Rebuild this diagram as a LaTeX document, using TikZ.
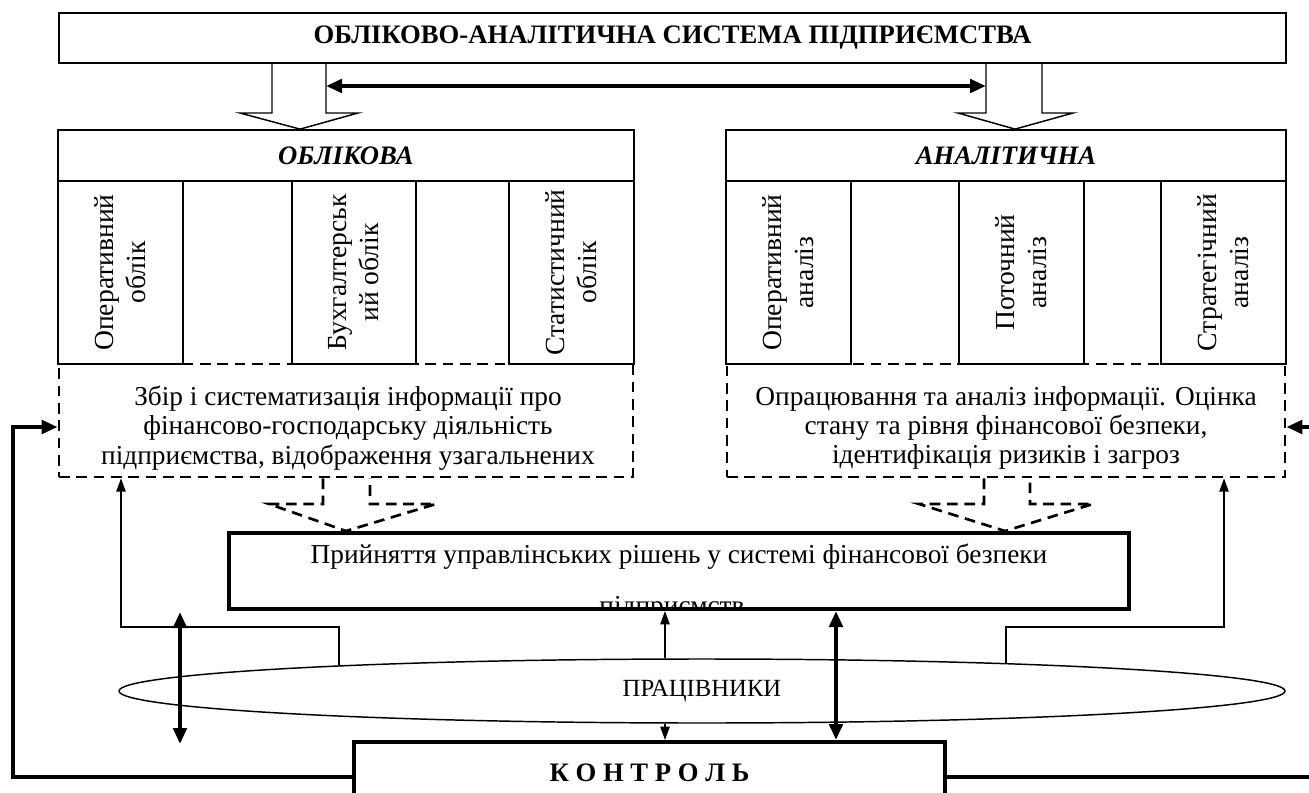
\documentclass[tikz,border=0pt]{standalone}
\usepackage{fontspec}
\setmainfont{Liberation Serif}
\usetikzlibrary{arrows.meta,shapes.geometric,calc}
\newcommand{\dfont}{\fontsize{20.5}{22}\selectfont}
\newcommand{\cfont}{\fontsize{20.7}{24}\selectfont}
\newcommand{\efont}{\fontsize{18.5}{22}\selectfont}
\newcommand{\tfont}{\fontsize{20}{22.5}\selectfont\bfseries}
\newcommand{\hfont}{\fontsize{20}{22.5}\selectfont\bfseries\itshape}
\begin{document}
\begin{tikzpicture}[x=0.75pt,y=-0.75pt,
  thinline/.style={line width=1.1pt},
  box/.style={draw, line width=1.3pt, rectangle, inner sep=0pt, align=center},
  cellbox/.style={box, rotate=90, minimum width=137.25pt, minimum height=93.75pt, font=\cfont},
  dashbox/.style={draw, line width=2pt, dash pattern=on 8pt off 5pt},
  heavybox/.style={draw, line width=3pt, rectangle, inner sep=0pt, align=center},
  thinarrow/.style={line width=1.1pt, -{Triangle[length=10pt,width=7pt]}},
  heavyarrow/.style={line width=3pt, -{Triangle[length=12pt,width=10pt]}},
  heavyarrows/.style={line width=3pt, {Triangle[length=12pt,width=10pt]}-{Triangle[length=12pt,width=10pt]}},
]
\clip (0,0) rectangle (1309,792);
\fill[white] (0,0) rectangle (1309,792);

% top box
\node[box, minimum width=920.25pt, minimum height=37.5pt, font=\tfont] (top) at (672.5,38) {ОБЛІКОВО-АНАЛІТИЧНА СИСТЕМА ПІДПРИЄМСТВА};

% headers
\node[box, minimum width=432pt, minimum height=38.25pt, font=\hfont] (oblh) at (346,155.5) {ОБЛІКОВА};
\node[box, minimum width=420pt, minimum height=38.25pt, font=\hfont] (anlh) at (1006,155.5) {АНАЛІТИЧНА};

% cells left
\node[cellbox] (c1) at (120.5,272.5) {Оперативний\\облік};
\node[cellbox, minimum height=93pt] (c3) at (354,272.5) {Бухгалтерськ\\ий облік};
\node[cellbox] (c5) at (571.5,272.5) {Статистичний\\облік};
% cells right
\node[cellbox] (a1) at (788.5,272.5) {Оперативний\\аналіз};
\node[cellbox] (a3) at (1021.5,272.5) {Поточний\\аналіз};
\node[cellbox] (a5) at (1223.5,272.5) {Стратегічний\\аналіз};

% dashed boxes
\node[dashbox, rectangle, inner sep=0pt, minimum width=430.5pt, minimum height=84.75pt] (dl) at (346,420.5) {};
\node[dashbox, rectangle, inner sep=0pt, minimum width=418.5pt, minimum height=84.75pt] (dr) at (1006,420.5) {};
\node[font=\dfont, align=center, inner sep=0pt] (dlt) at (348,428) {Збір і систематизація інформації про\\фінансово-господарську діяльність\\підприємства, відображення узагальнених};
\node[font=\dfont, align=center, inner sep=0pt] (drt) at (1006,428) {Опрацювання та аналіз інформації. Оцінка\\стану та рівня фінансової безпеки,\\ідентифікація ризиків і загроз};

% decision box
\node[heavybox, minimum width=675pt, minimum height=57pt] (dec) at (679,571) {};
\begin{scope}
\clip (231,535) rectangle (1127,606);
\node[font=\dfont, anchor=base, inner sep=0pt] (dect1) at (679,563) {Прийняття управлінських рішень у системі фінансової безпеки};
\node[font=\dfont, anchor=base, inner sep=0pt] (dect2) at (672,614) {підприємств};
\end{scope}

% employees ellipse
\node[draw, ellipse, thinline, inner sep=0pt, minimum width=874.5pt, minimum height=48pt, font=\efont] (emp) at (702,691) {ПРАЦІВНИКИ};

% control box
\node[heavybox, minimum width=443.25pt, minimum height=46.5pt, font=\tfont] (ctrl) at (649.5,773) {К О Н Т Р О Л Ь};

% hollow arrows top
\draw[thinline, line join=miter] (272,0 |- top.south) -- (272,113) -- (240,113) -- (300,0 |- oblh.north) -- (358,113) -- (326,113) -- (326,0 |- top.south);
\draw[thinline, line join=miter] (986,0 |- top.south) -- (986,113) -- (958,113) -- (1015,0 |- anlh.north) -- (1073,113) -- (1042,113) -- (1042,0 |- top.south);
\coordinate (haL) at (326,86);
\coordinate (haR) at (986,86);
\draw[heavyarrows] (haL) -- (haR);

% dashed hollow arrows
\draw[dashbox] (323,0 |- dl.south) -- (323,504) -- (269,504) -- (346,0 |- dec.north) -- (436,504) -- (370,504) -- (370,0 |- dl.south);
\draw[dashbox] (984,0 |- dr.south) -- (984,504) -- (919,504) -- (1005,0 |- dec.north) -- (1093,504) -- (1030,504) -- (1030,0 |- dr.south);

% thin connectors from employees
\coordinate (eL) at (339,665);
\coordinate (eR) at (1006,664);
\draw[thinarrow] (eL) |- (121,627) -- (121,0 |- dl.south);
\draw[thinarrow] (eR) |- (1224,627) -- (1224,0 |- dr.south);
\draw[thinarrow] (665,0 |- emp.north) -- (665,0 |- dec.south);
\draw[thinarrow] (665,0 |- emp.south) -- (665,0 |- ctrl.north);
\draw[heavyarrows] (836,0 |- dec.south) -- (836,0 |- ctrl.north);
\coordinate (lvA) at (180,612);
\coordinate (lvB) at (180,744);
\draw[heavyarrows] (lvA) -- (lvB);

% control feedback lines
\draw[heavyarrow] (ctrl.west |- 0,777) -- (13,777) -- (13,427) -- (dl.west |- 0,427);
\draw[heavyarrow] (ctrl.east |- 0,777) -- (1330,777) -- (1330,427) -- (dr.east |- 0,427);
\end{tikzpicture}
\end{document}
